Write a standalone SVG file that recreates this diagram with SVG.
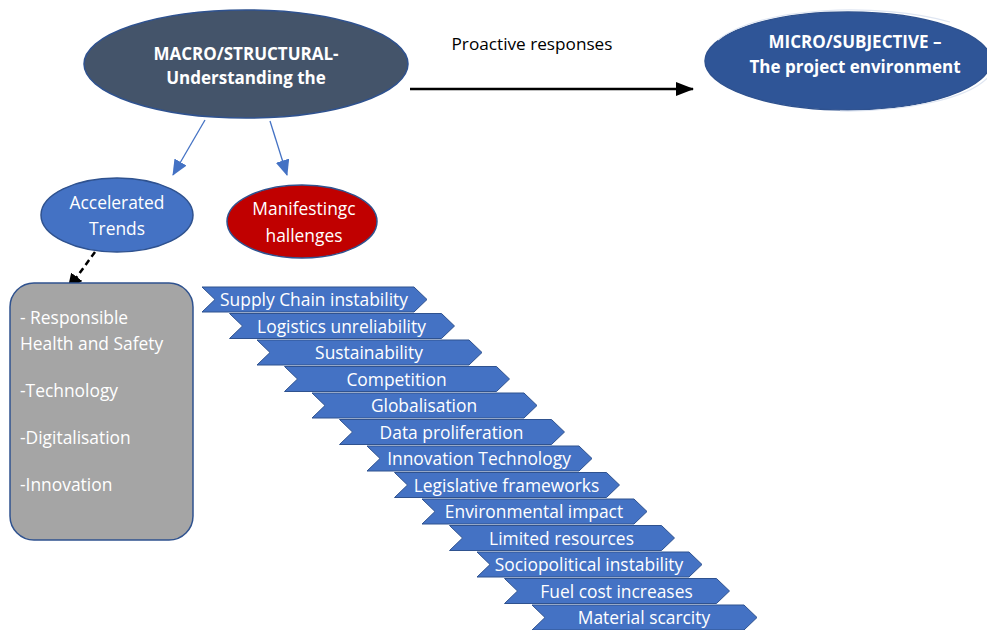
<svg xmlns="http://www.w3.org/2000/svg" width="987" height="630" viewBox="0 0 987 630">
  <style>
    text { font-family: "Open Sans", "Liberation Sans", sans-serif; }
    .w { fill: #ffffff; font-size: 17.4px; }
    .wb { fill: #ffffff; font-size: 17px; font-weight: bold; }
    .chev { fill: #4472C4; stroke: #2F528F; stroke-width: 1; }
    .ct { fill: #ffffff; font-size: 17.4px; text-anchor: middle; }
    .mid { text-anchor: middle; }
  </style>
  <defs>
    <marker id="ahBig" markerWidth="18" markerHeight="14" refX="17" refY="7" orient="auto" markerUnits="userSpaceOnUse" viewBox="0 0 18 14">
      <path d="M0,0 L18,7 L0,14 z" fill="#000000"/>
    </marker>
    <marker id="ahBlue" markerWidth="16" markerHeight="14" refX="15" refY="7" orient="auto" markerUnits="userSpaceOnUse" viewBox="0 0 16 14">
      <path d="M0,0 L16,7 L0,14 z" fill="#4472C4"/>
    </marker>
    <marker id="ahDash" markerWidth="16" markerHeight="14" refX="15" refY="7" orient="auto" markerUnits="userSpaceOnUse" viewBox="0 0 16 14">
      <path d="M0,0 L16,7 L0,14 z" fill="#000000"/>
    </marker>
  </defs>

  <rect width="987" height="630" fill="#ffffff"/>

  <!-- connectors -->
  <g id="connectors">
    <line x1="410" y1="89" x2="693" y2="89" stroke="#000000" stroke-width="2.5" marker-end="url(#ahBig)"/>
    <text x="532" y="50" class="mid" font-size="17.2" fill="#000000">Proactive responses</text>
    <line x1="205" y1="120" x2="173" y2="175" stroke="#4472C4" stroke-width="1.3" marker-end="url(#ahBlue)"/>
    <line x1="270" y1="121" x2="287" y2="175" stroke="#4472C4" stroke-width="1.3" marker-end="url(#ahBlue)"/>
    <line x1="95" y1="252" x2="68" y2="289" stroke="#000000" stroke-width="2.5" stroke-dasharray="6,4" marker-end="url(#ahDash)"/>
  </g>

  <!-- top-level ellipses -->
  <g id="macro">
    <ellipse cx="246" cy="64" rx="162" ry="54" fill="#44546A" stroke="#2F528F" stroke-width="1.5"/>
    <text x="246" y="60" class="wb mid">MACRO/STRUCTURAL-</text>
    <text x="246" y="84" class="wb mid">Understanding the</text>
  </g>

  <g id="micro">
    <ellipse cx="848" cy="61" rx="143" ry="49" fill="#2F5597" stroke="#2F528F" stroke-width="1.5"/>
    <path d="M718,40 C760,6 880,2 950,22" fill="none" stroke="#dfe6f2" stroke-width="1.2"/>
    <path d="M990,75 C970,100 900,112 840,111" fill="none" stroke="#dfe6f2" stroke-width="1.2"/>
    <text x="855" y="48" class="wb mid" font-size="17.6">MICRO/SUBJECTIVE –</text>
    <text x="855" y="73" class="wb mid" font-size="17.6">The project environment</text>
  </g>

  <g id="trends">
    <ellipse cx="117" cy="215" rx="76" ry="37" fill="#4472C4" stroke="#2F528F" stroke-width="1.5"/>
    <text x="117" y="209" class="w mid">Accelerated</text>
    <text x="117" y="235" class="w mid">Trends</text>
  </g>

  <g id="challenges">
    <ellipse cx="302" cy="221.5" rx="75" ry="36.5" fill="#C00000" stroke="#2F528F" stroke-width="1.5"/>
    <text x="304" y="215" class="w mid">Manifestingc</text>
    <text x="304" y="242" class="w mid">hallenges</text>
  </g>

  <g id="trend-list">
    <rect x="10" y="283" width="183" height="257" rx="24" fill="#A5A5A5" stroke="#2F528F" stroke-width="1.5"/>
    <text x="20" y="324" class="w">- Responsible</text>
    <text x="20" y="350" class="w">Health and Safety</text>
    <text x="20" y="397" class="w">-Technology</text>
    <text x="20" y="444" class="w">-Digitalisation</text>
    <text x="20" y="491" class="w">-Innovation</text>
  </g>

  <!-- challenge chevrons: each step shifts 27.5 right, 26.5 down -->
  <g id="chevrons">
    <g id="c1" transform="translate(202,287)"><polygon class="chev" points="0,0 212,0 225,12.5 212,25 0,25 13,12.5"/><text x="112" y="19" class="ct">Supply Chain instability</text></g>
    <g id="c2" transform="translate(229.5,313.5)"><polygon class="chev" points="0,0 212,0 225,12.5 212,25 0,25 13,12.5"/><text x="112" y="19" class="ct">Logistics unreliability</text></g>
    <g id="c3" transform="translate(257,340)"><polygon class="chev" points="0,0 212,0 225,12.5 212,25 0,25 13,12.5"/><text x="112" y="19" class="ct">Sustainability</text></g>
    <g id="c4" transform="translate(284.5,366.5)"><polygon class="chev" points="0,0 212,0 225,12.5 212,25 0,25 13,12.5"/><text x="112" y="19" class="ct">Competition</text></g>
    <g id="c5" transform="translate(312,393)"><polygon class="chev" points="0,0 212,0 225,12.5 212,25 0,25 13,12.5"/><text x="112" y="19" class="ct">Globalisation</text></g>
    <g id="c6" transform="translate(339.5,419.5)"><polygon class="chev" points="0,0 212,0 225,12.5 212,25 0,25 13,12.5"/><text x="112" y="19" class="ct">Data proliferation</text></g>
    <g id="c7" transform="translate(367,446)"><polygon class="chev" points="0,0 212,0 225,12.5 212,25 0,25 13,12.5"/><text x="112" y="19" class="ct">Innovation Technology</text></g>
    <g id="c8" transform="translate(394.5,472.5)"><polygon class="chev" points="0,0 212,0 225,12.5 212,25 0,25 13,12.5"/><text x="112" y="19" class="ct">Legislative frameworks</text></g>
    <g id="c9" transform="translate(422,499)"><polygon class="chev" points="0,0 212,0 225,12.5 212,25 0,25 13,12.5"/><text x="112" y="19" class="ct">Environmental  impact</text></g>
    <g id="c10" transform="translate(449.5,525.5)"><polygon class="chev" points="0,0 212,0 225,12.5 212,25 0,25 13,12.5"/><text x="112" y="19" class="ct">Limited resources</text></g>
    <g id="c11" transform="translate(477,552)"><polygon class="chev" points="0,0 212,0 225,12.5 212,25 0,25 13,12.5"/><text x="112" y="19" class="ct">Sociopolitical instability</text></g>
    <g id="c12" transform="translate(504.5,578.5)"><polygon class="chev" points="0,0 212,0 225,12.5 212,25 0,25 13,12.5"/><text x="112" y="19" class="ct">Fuel cost increases</text></g>
    <g id="c13" transform="translate(532,605)"><polygon class="chev" points="0,0 212,0 225,12.5 212,25 0,25 13,12.5"/><text x="112" y="19" class="ct">Material scarcity</text></g>
  </g>
</svg>
